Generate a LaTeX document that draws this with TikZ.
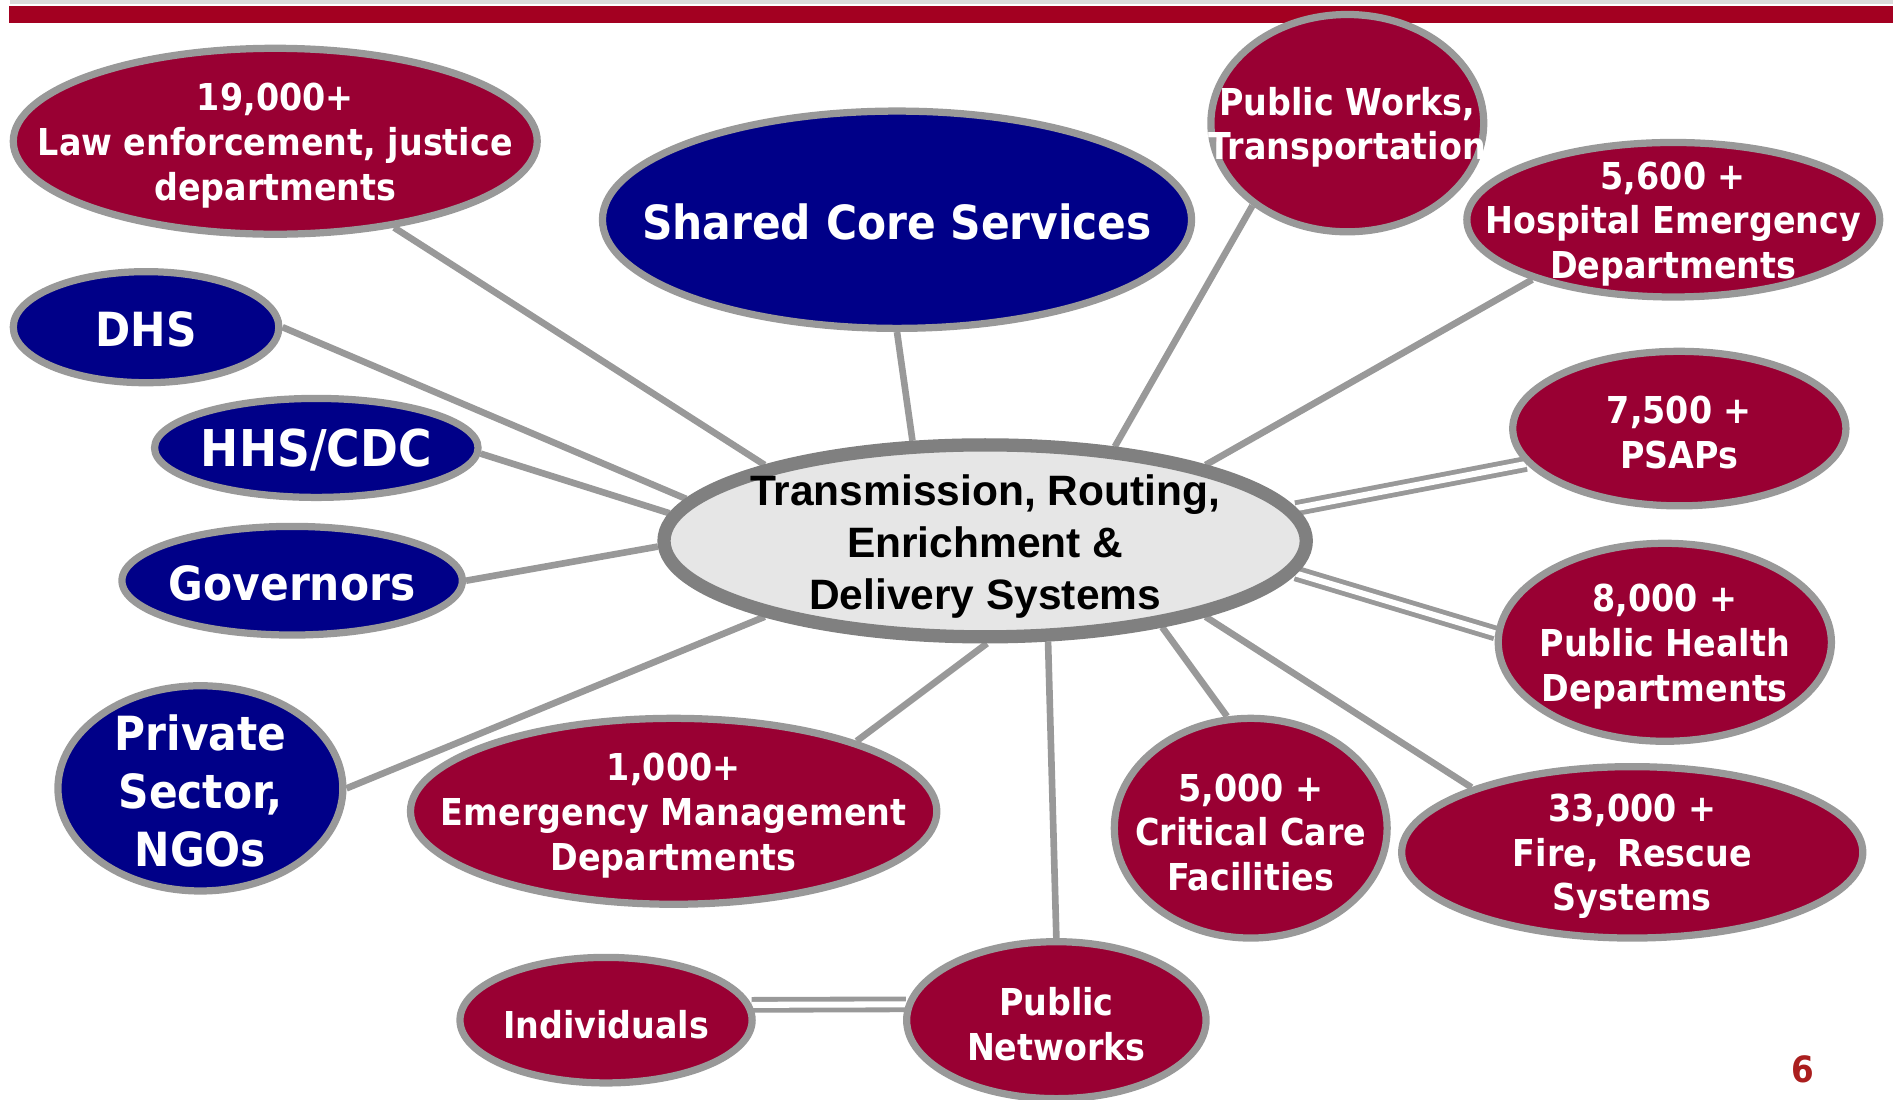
\documentclass[tikz,border=0pt]{standalone}
\usepackage{fontspec}
\setmainfont{DejaVu Sans Condensed}
\newfontfamily\arialfont{Liberation Sans}
\usetikzlibrary{shapes.geometric,backgrounds}
\definecolor{bubred}{RGB}{153,0,51}
\definecolor{bubblue}{RGB}{0,0,136}
\definecolor{rimgray}{RGB}{153,153,153}
\definecolor{hubgray}{RGB}{128,128,128}
\definecolor{hubfill}{RGB}{230,230,230}
\definecolor{barred}{RGB}{163,0,33}
\definecolor{pagered}{RGB}{170,30,30}
\tikzset{
  bubble/.style={ellipse, draw=rimgray, line width=6pt, inner sep=0pt},
  redbub/.style={bubble, fill=bubred},
  bluebub/.style={bubble, fill=bubblue},
  rfont/.style={text=white, align=center, yshift=-3.5pt, font=\bfseries\fontsize{30.7}{37}\selectfont},
  bfont/.style={text=white, align=center, yshift=-2pt, font=\bfseries\fontsize{39}{48}\selectfont},
  link/.style={draw=rimgray, line width=5.5pt},
  dlink/.style={draw=rimgray, line width=4pt, double=white, double distance=5pt}
}
\begin{document}
\begin{tikzpicture}[x=1pt,y=-1pt]
\useasboundingbox (0,0) rectangle (1568,911);

\fill[black!14] (8,0) rectangle (1568,3.3);
\fill[barred] (7.5,5) rectangle (1568,18.8);

\node[ellipse, draw=hubgray, line width=11pt, fill=hubfill, inner sep=0pt,
      minimum width=532, minimum height=159] (core) at (816,448) {};
\node[align=center, yshift=-5pt, font=\arialfont\bfseries\fontsize{35.2}{43}\selectfont] (coretxt) at (core)
      {Transmission, Routing,\\Enrichment \&\\Delivery Systems};

\node[redbub, minimum width=434, minimum height=154] (law) at (228,117) {};
\node[bluebub, minimum width=488, minimum height=180] (shared) at (743,182) {};
\node[redbub, minimum width=226, minimum height=180] (works) at (1116,102) {};
\node[redbub, minimum width=342, minimum height=128] (hosp) at (1386,182) {};
\node[bluebub, minimum width=220, minimum height=92] (dhs) at (121,271) {};
\node[bluebub, minimum width=268, minimum height=82] (hhs) at (262,371) {};
\node[bluebub, minimum width=282, minimum height=90] (gov) at (242,481) {};
\node[redbub, minimum width=276, minimum height=128] (psap) at (1391,355) {};
\node[redbub, minimum width=276, minimum height=164] (health) at (1379,532) {};
\node[bluebub, minimum width=236, minimum height=170] (priv) at (166,653) {};
\node[redbub, minimum width=436, minimum height=154] (emerg) at (558,672) {};
\node[redbub, minimum width=226, minimum height=182] (care) at (1036,686) {};
\node[redbub, minimum width=382, minimum height=142] (fire) at (1352,706) {};
\node[redbub, minimum width=242, minimum height=104] (indiv) at (502,845) {};
\node[redbub, minimum width=248, minimum height=130] (pubnet) at (875,845) {};

\node[rfont] (lawtxt) at (law) {19,000+\\Law enforcement, justice\\departments};
\node[bfont] (sharedtxt) at (shared) {Shared Core Services};
\node[rfont] (workstxt) at (works) {Public Works,\\Transportation};
\node[rfont] (hosptxt) at (hosp) {5,600 +\\Hospital Emergency\\Departments};
\node[bfont] (dhstxt) at (dhs) {DHS};
\node[bfont, font=\bfseries\fontsize{42}{48}\selectfont] (hhstxt) at (hhs) {HHS/CDC};
\node[bfont] (govtxt) at (gov) {Governors};
\node[rfont] (psaptxt) at (psap) {7,500 +\\PSAPs};
\node[rfont] (healthtxt) at (health) {8,000 +\\Public Health\\Departments};
\node[bfont] (privtxt) at (priv) {Private\\Sector,\\NGOs};
\node[rfont] (emergtxt) at (emerg) {1,000+\\Emergency Management\\Departments};
\node[rfont] (caretxt) at (care) {5,000 +\\Critical Care\\Facilities};
\node[rfont] (firetxt) at (fire) {33,000 +\\Fire,\enspace Rescue\\Systems};
\node[rfont] (indivtxt) at (indiv) {Individuals};
\node[rfont] (pubnettxt) at (pubnet) {Public\\Networks};

\node[text=pagered, font=\bfseries\fontsize{30}{36}\selectfont] (page) at (1493,886) {6};

\begin{scope}[on background layer]
\draw[link] (law.-36) -- (core.161);
\draw[link] (dhs.0) -- (core.172.5);
\draw[link] (hhs.-2) -- (core.175);
\draw[link] (gov.0) -- (core.181);
\draw[link] (priv.0) -- (core.199);
\draw[link] (emerg.21) -- (core.271);
\draw[link] (shared.-90) -- (core.126);
\draw[link] (works.221) -- (core.36);
\draw[link] (hosp.203) -- (core.19);
\draw[link] (care.102) -- (core.-26);
\draw[link] (fire.158) -- (core.-19);
\draw[link] (pubnet.90) -- (core.-58);
\draw[dlink] (psap.193) -- (core.6);
\draw[dlink] (health.177) -- (core.-6.5);
\draw[dlink] (indiv.6) -- (pubnet.174);
\end{scope}
\end{tikzpicture}
\end{document}
